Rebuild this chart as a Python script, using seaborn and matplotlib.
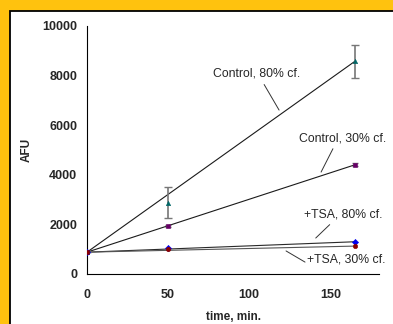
import numpy as np
import pandas as pd
import matplotlib
matplotlib.use("Agg")
import matplotlib.pyplot as plt
from matplotlib.patches import Rectangle
from matplotlib.ticker import MultipleLocator
import seaborn as sns

sns.set_style("white")
plt.rcParams['font.family'] = ['Liberation Sans', 'DejaVu Sans']

# data
time = [0, 50, 165]
ctrl80 = [880, 2880, 8570]
ctrl80_err = [0, 640, 680]
ctrl30 = [880, 1940, 4400]
ctrl30_err = [0, 40, 60]
tsa80 = [880, 1060, 1300]
tsa30 = [880, 990, 1125]

series = ["Control, 80% cf.", "Control, 30% cf.", "+TSA, 80% cf.", "+TSA, 30% cf."]
values = [ctrl80, ctrl30, tsa80, tsa30]
colors = ["#006666", "#660066", "#0000ee", "#8b0000"]
markers = ["^", "s", "D", "o"]
line_colors = ["#1a1a1a", "#1a1a1a", "#2a2a2a", "#555555"]

df = pd.DataFrame({
    "time": time * 4,
    "AFU": sum(values, []),
    "series": sum([[s] * 3 for s in series], []),
})

fig = plt.figure(figsize=(3.93, 3.24), dpi=100)
fig.patch.set_facecolor("#ffc20e")
fig.patches.append(Rectangle((9.5 / 393, -0.01), 1.1, 1 - 11 / 324 + 0.01,
                             transform=fig.transFigure, facecolor="white",
                             edgecolor="black", linewidth=1.3, zorder=-10))
ax = fig.add_axes([87 / 393, 1 - 274 / 324, 292 / 393, 248 / 324])
ax.set_facecolor("none")

# straight line from first to last point of each series
ends = df[df["time"].isin([time[0], time[-1]])]
for s, lc in zip(series, line_colors):
    sub = ends[ends["series"] == s]
    sns.lineplot(data=sub, x="time", y="AFU", color=lc, linewidth=0.8, ax=ax, zorder=2)

for s, c, m in zip(series, colors, markers):
    sub = df[df["series"] == s]
    sns.scatterplot(data=sub, x="time", y="AFU", color=c, marker=m, s=10,
                    edgecolor=c, linewidth=0.4, ax=ax, zorder=4, legend=False)

ax.errorbar(time, ctrl80, yerr=ctrl80_err, fmt="none", ecolor="#777777",
            elinewidth=1.2, capsize=3, capthick=1, zorder=3)
ax.errorbar(time, ctrl30, yerr=ctrl30_err, fmt="none", ecolor="#777777",
            elinewidth=1, capsize=2, zorder=3)

ax.set_xlim(0, 180)
ax.set_ylim(0, 10000)
ax.xaxis.set_major_locator(MultipleLocator(50))
ax.yaxis.set_major_locator(MultipleLocator(2000))
ax.yaxis.set_minor_locator(MultipleLocator(1000))
ax.tick_params(axis="both", which="both", direction="out", length=4, width=0.8,
               color="black", labelsize=9, pad=3)
ax.tick_params(axis="x", which="both", length=5, pad=6)
for lab in ax.get_xticklabels() + ax.get_yticklabels():
    lab.set_fontweight("bold")
sns.despine(ax=ax)
for sp in ["left", "bottom"]:
    ax.spines[sp].set_color("black")
    ax.spines[sp].set_linewidth(0.8)
ax.set_xlabel("time, min.", fontsize=8.5, fontweight="bold", labelpad=7)
ax.set_ylabel("AFU", fontsize=8.5, fontweight="bold", labelpad=7)

# labels with leader lines: (text, text pos, leader start, leader end)
notes = [
    ("Control, 80% cf.", (104.8, 8100), (109.2, 7640), (118.4, 6610)),
    ("Control, 30% cf.", (157.8, 5480), (151.6, 5050), (144.3, 4110)),
    ("+TSA, 80% cf.", (157.8, 2380), (149.6, 1990), (141.0, 1450)),
    ("+TSA, 30% cf.", (160.0, 565), (134.4, 480), (122.7, 930)),
]
for txt, pos, p0, p1 in notes:
    ax.text(pos[0], pos[1], txt, fontsize=8.8, ha="center", va="center")
    ax.plot([p0[0], p1[0]], [p0[1], p1[1]], color="#333333", lw=0.7)

fig.savefig("out.png", dpi=100, facecolor=fig.get_facecolor())
